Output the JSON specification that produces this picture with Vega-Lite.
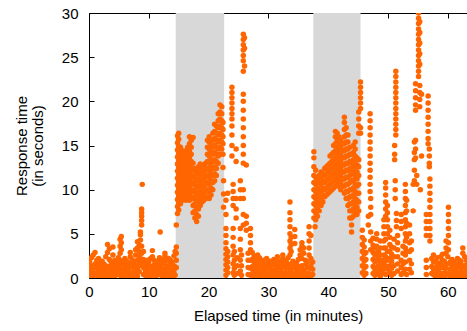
{
"$schema": "https://vega.github.io/schema/vega-lite/v6.json",
"width": 378, "height": 265,
"autosize": {"type": "none"},
"padding": {"left": 89, "top": 13, "right": 0, "bottom": 53},
"config": {"view": {"stroke": null}, "font": "Liberation Sans",
 "axis": {"grid": false, "domainColor": "black", "tickColor": "black", "labelColor": "black", "titleColor": "black", "labelFontSize": 15, "titleFontSize": 15, "titleFontWeight": "normal", "tickSize": -5, "domainWidth": 1, "tickWidth": 1, "zindex": 1, "labelFlush": false, "labelOverlap": false}},
"resolve": {"axis": {"x": "independent"}},
"layer": [
{"data": {"values": [{"s": 14.5, "e": 22.6}, {"s": 37.5, "e": 45.4}]},
 "mark": {"type": "rect", "color": "#d8d8d8"},
 "encoding": {
  "x": {"field": "s", "type": "quantitative", "scale": {"domain": [0, 63.2], "nice": false, "zero": false}, "axis": {"orient": "bottom", "values": [0,10,20,30,40,50,60], "labelPadding": 11, "title": "Elapsed time (in minutes)", "titlePadding": 9}},
  "x2": {"field": "e"},
  "y": {"datum": 0, "type": "quantitative", "scale": {"domain": [0, 30], "nice": false}, "axis": {"values": [0,5,10,15,20,25,30], "labelPadding": 16, "title": ["Response time", "(in seconds)"], "titlePadding": 16, "titleLineHeight": 16}},
  "y2": {"datum": 30}
 }},
{"data": {"values": [
{"t":0.1,"r":0.3},{"t":0.1,"r":1.1},{"t":0.1,"r":1.9},
{"t":0.4,"r":0.6},{"t":0.4,"r":1.4},{"t":0.4,"r":2.3},
{"t":0.7,"r":0.2},{"t":0.7,"r":1.0},{"t":0.7,"r":2.6},
{"t":1.0,"r":0.5},{"t":1.0,"r":1.6},{"t":1.0,"r":2.9},
{"t":1.3,"r":0.3},{"t":1.3,"r":1.2},{"t":1.3,"r":2.0},
{"t":1.6,"r":0.7},{"t":1.6,"r":1.5},{"t":1.6,"r":2.2},
{"t":1.9,"r":0.2},{"t":1.9,"r":0.9},{"t":1.9,"r":1.7},
{"t":2.2,"r":0.5},{"t":2.2,"r":1.3},{"t":2.2,"r":1.9},
{"t":2.5,"r":0.3},{"t":2.5,"r":1.0},{"t":2.5,"r":1.6},
{"t":2.8,"r":0.6},{"t":2.8,"r":1.4},{"t":2.8,"r":2.4},
{"t":3.1,"r":0.2},{"t":3.1,"r":1.1},{"t":3.1,"r":2.9},{"t":3.1,"r":3.8},
{"t":3.4,"r":0.5},{"t":3.4,"r":1.3},{"t":3.4,"r":2.1},{"t":3.4,"r":3.3},
{"t":3.7,"r":0.3},{"t":3.7,"r":0.9},{"t":3.7,"r":1.8},
{"t":4.0,"r":0.6},{"t":4.0,"r":1.5},{"t":4.0,"r":2.6},{"t":4.0,"r":3.5},
{"t":4.3,"r":0.2},{"t":4.3,"r":1.2},{"t":4.3,"r":2.0},
{"t":4.6,"r":0.4},{"t":4.6,"r":1.0},{"t":4.6,"r":1.7},
{"t":4.9,"r":0.7},{"t":4.9,"r":1.5},{"t":4.9,"r":2.3},
{"t":5.2,"r":0.3},{"t":5.2,"r":1.1},{"t":5.2,"r":2.0},{"t":5.2,"r":2.8},{"t":5.2,"r":3.6},{"t":5.2,"r":4.4},
{"t":5.4,"r":0.5},{"t":5.4,"r":1.6},{"t":5.4,"r":3.2},{"t":5.4,"r":4.0},{"t":5.4,"r":4.7},
{"t":5.7,"r":0.2},{"t":5.7,"r":0.9},{"t":5.7,"r":1.8},
{"t":6.0,"r":0.6},{"t":6.0,"r":1.4},{"t":6.0,"r":2.2},
{"t":6.3,"r":0.3},{"t":6.3,"r":1.2},{"t":6.3,"r":1.9},
{"t":6.6,"r":0.5},{"t":6.6,"r":1.0},{"t":6.6,"r":1.7},
{"t":6.9,"r":0.2},{"t":6.9,"r":1.3},{"t":6.9,"r":2.4},{"t":6.9,"r":2.9},
{"t":7.2,"r":0.6},{"t":7.2,"r":1.5},{"t":7.2,"r":2.1},
{"t":7.5,"r":0.3},{"t":7.5,"r":1.1},{"t":7.5,"r":1.8},
{"t":7.8,"r":0.5},{"t":7.8,"r":1.4},{"t":7.8,"r":2.6},{"t":7.8,"r":3.2},
{"t":8.1,"r":0.2},{"t":8.1,"r":1.0},{"t":8.1,"r":2.0},{"t":8.1,"r":3.4},{"t":8.1,"r":4.1},
{"t":8.4,"r":0.7},{"t":8.4,"r":1.6},{"t":8.4,"r":2.4},{"t":8.4,"r":3.0},{"t":8.4,"r":3.7},
{"t":8.6,"r":1.4},{"t":8.6,"r":2.2},{"t":8.6,"r":4.3},{"t":8.6,"r":4.9},{"t":8.6,"r":5.2},
{"t":8.8,"r":1.8},{"t":8.8,"r":2.8},{"t":8.8,"r":3.6},{"t":8.8,"r":6.0},{"t":8.8,"r":6.5},{"t":8.8,"r":7.0},{"t":8.8,"r":7.4},{"t":8.8,"r":7.8},
{"t":8.9,"r":10.6},
{"t":9.1,"r":0.4},{"t":9.1,"r":1.2},{"t":9.1,"r":2.1},{"t":9.1,"r":3.0},
{"t":9.4,"r":0.3},{"t":9.4,"r":0.9},{"t":9.4,"r":1.7},
{"t":9.7,"r":0.6},{"t":9.7,"r":1.4},{"t":9.7,"r":2.0},
{"t":10.0,"r":0.2},{"t":10.0,"r":1.1},{"t":10.0,"r":1.8},
{"t":10.3,"r":0.5},{"t":10.3,"r":1.3},{"t":10.3,"r":2.2},
{"t":10.6,"r":0.3},{"t":10.6,"r":1.0},{"t":10.6,"r":2.4},{"t":10.6,"r":3.1},
{"t":10.9,"r":0.6},{"t":10.9,"r":1.5},{"t":10.9,"r":2.0},
{"t":11.2,"r":0.2},{"t":11.2,"r":1.2},{"t":11.2,"r":1.7},
{"t":11.5,"r":0.4},{"t":11.5,"r":0.9},{"t":11.5,"r":1.9},
{"t":11.8,"r":0.7},{"t":11.8,"r":1.4},{"t":11.8,"r":2.3},
{"t":11.9,"r":5.2},
{"t":12.1,"r":0.3},{"t":12.1,"r":1.1},{"t":12.1,"r":1.8},
{"t":12.4,"r":0.5},{"t":12.4,"r":1.6},{"t":12.4,"r":2.1},
{"t":12.7,"r":0.2},{"t":12.7,"r":1.0},{"t":12.7,"r":2.5},{"t":12.7,"r":2.8},
{"t":13.0,"r":0.6},{"t":13.0,"r":1.3},{"t":13.0,"r":1.9},
{"t":13.3,"r":0.3},{"t":13.3,"r":1.1},{"t":13.3,"r":2.2},
{"t":13.6,"r":0.5},{"t":13.6,"r":1.5},{"t":13.6,"r":2.0},
{"t":13.9,"r":0.2},{"t":13.9,"r":0.9},{"t":13.9,"r":1.8},
{"t":14.2,"r":0.6},{"t":14.2,"r":1.4},{"t":14.2,"r":2.5},
{"t":14.4,"r":0.3},{"t":14.4,"r":1.1},{"t":14.4,"r":3.0},
{"t":14.6,"r":1.2},{"t":14.6,"r":2.0},{"t":14.6,"r":2.8},{"t":14.6,"r":3.5},{"t":14.6,"r":6.0},
{"t":14.8,"r":7.3},{"t":14.8,"r":8.1},{"t":14.8,"r":8.9},{"t":14.8,"r":9.7},{"t":14.8,"r":10.5},{"t":14.8,"r":11.3},{"t":14.8,"r":12.1},{"t":14.8,"r":12.9},{"t":14.8,"r":13.7},{"t":14.8,"r":14.5},{"t":14.8,"r":15.3},{"t":14.8,"r":16.1},
{"t":15.0,"r":7.7},{"t":15.0,"r":8.5},{"t":15.0,"r":9.3},{"t":15.0,"r":10.1},{"t":15.0,"r":10.9},{"t":15.0,"r":11.7},{"t":15.0,"r":12.5},{"t":15.0,"r":13.3},{"t":15.0,"r":14.1},{"t":15.0,"r":14.9},{"t":15.0,"r":15.7},{"t":15.0,"r":16.4},
{"t":15.3,"r":8.4},{"t":15.3,"r":9.2},{"t":15.3,"r":10.0},{"t":15.3,"r":10.8},{"t":15.3,"r":11.6},{"t":15.3,"r":12.4},{"t":15.3,"r":13.2},{"t":15.3,"r":14.0},{"t":15.3,"r":14.8},
{"t":15.6,"r":8.8},{"t":15.6,"r":9.6},{"t":15.6,"r":10.4},{"t":15.6,"r":11.2},{"t":15.6,"r":12.0},{"t":15.6,"r":12.8},{"t":15.6,"r":13.6},{"t":15.6,"r":14.4},
{"t":15.9,"r":9.2},{"t":15.9,"r":10.0},{"t":15.9,"r":10.8},{"t":15.9,"r":11.6},{"t":15.9,"r":12.4},{"t":15.9,"r":13.2},{"t":15.9,"r":14.0},
{"t":16.2,"r":8.8},{"t":16.2,"r":9.6},{"t":16.2,"r":10.4},{"t":16.2,"r":11.2},{"t":16.2,"r":12.0},{"t":16.2,"r":12.8},{"t":16.2,"r":13.6},{"t":16.2,"r":14.4},
{"t":16.5,"r":9.2},{"t":16.5,"r":10.0},{"t":16.5,"r":10.8},{"t":16.5,"r":11.6},{"t":16.5,"r":12.4},{"t":16.5,"r":13.2},{"t":16.5,"r":14.0},{"t":16.5,"r":14.8},
{"t":16.8,"r":8.8},{"t":16.8,"r":9.6},{"t":16.8,"r":10.4},{"t":16.8,"r":11.2},{"t":16.8,"r":12.0},{"t":16.8,"r":12.8},{"t":16.8,"r":13.6},{"t":16.8,"r":14.4},{"t":16.8,"r":15.2},{"t":16.8,"r":16.0},
{"t":17.1,"r":9.2},{"t":17.1,"r":10.0},{"t":17.1,"r":10.8},{"t":17.1,"r":11.6},{"t":17.1,"r":12.4},{"t":17.1,"r":13.2},{"t":17.1,"r":14.0},{"t":17.1,"r":14.8},{"t":17.1,"r":15.6},
{"t":17.4,"r":7.4},{"t":17.4,"r":8.2},{"t":17.4,"r":9.0},{"t":17.4,"r":9.8},{"t":17.4,"r":10.6},{"t":17.4,"r":11.4},{"t":17.4,"r":12.2},{"t":17.4,"r":13.0},{"t":17.4,"r":15.9},
{"t":17.7,"r":6.8},{"t":17.7,"r":7.6},{"t":17.7,"r":8.4},{"t":17.7,"r":9.2},{"t":17.7,"r":10.0},{"t":17.7,"r":10.8},{"t":17.7,"r":11.6},{"t":17.7,"r":12.4},
{"t":18.0,"r":6.4},{"t":18.0,"r":7.2},{"t":18.0,"r":8.0},{"t":18.0,"r":8.8},{"t":18.0,"r":9.6},{"t":18.0,"r":10.4},{"t":18.0,"r":11.2},{"t":18.0,"r":12.0},
{"t":18.3,"r":7.0},{"t":18.3,"r":7.8},{"t":18.3,"r":8.6},{"t":18.3,"r":9.4},{"t":18.3,"r":10.2},{"t":18.3,"r":11.0},{"t":18.3,"r":11.8},{"t":18.3,"r":12.6},
{"t":18.6,"r":8.2},{"t":18.6,"r":9.0},{"t":18.6,"r":9.8},{"t":18.6,"r":10.6},{"t":18.6,"r":11.4},{"t":18.6,"r":12.2},{"t":18.6,"r":12.9},
{"t":18.9,"r":8.6},{"t":18.9,"r":9.4},{"t":18.9,"r":10.2},{"t":18.9,"r":11.0},{"t":18.9,"r":11.8},{"t":18.9,"r":12.6},
{"t":19.2,"r":8.8},{"t":19.2,"r":9.6},{"t":19.2,"r":10.4},{"t":19.2,"r":11.2},{"t":19.2,"r":12.0},{"t":19.2,"r":12.8},
{"t":19.5,"r":9.0},{"t":19.5,"r":9.8},{"t":19.5,"r":10.6},{"t":19.5,"r":11.4},{"t":19.5,"r":12.2},{"t":19.5,"r":13.0},
{"t":19.8,"r":9.2},{"t":19.8,"r":10.0},{"t":19.8,"r":10.8},{"t":19.8,"r":11.6},{"t":19.8,"r":12.4},{"t":19.8,"r":13.2},{"t":19.8,"r":14.0},{"t":19.8,"r":14.8},{"t":19.8,"r":15.6},
{"t":20.1,"r":9.0},{"t":20.1,"r":9.8},{"t":20.1,"r":10.6},{"t":20.1,"r":11.4},{"t":20.1,"r":12.2},{"t":20.1,"r":13.0},{"t":20.1,"r":13.8},{"t":20.1,"r":14.6},{"t":20.1,"r":15.4},{"t":20.1,"r":16.0},
{"t":20.4,"r":9.4},{"t":20.4,"r":10.2},{"t":20.4,"r":11.0},{"t":20.4,"r":11.8},{"t":20.4,"r":12.6},{"t":20.4,"r":13.4},{"t":20.4,"r":14.2},{"t":20.4,"r":15.0},
{"t":20.7,"r":10.0},{"t":20.7,"r":10.8},{"t":20.7,"r":11.6},{"t":20.7,"r":12.4},{"t":20.7,"r":13.2},{"t":20.7,"r":14.0},{"t":20.7,"r":14.8},{"t":20.7,"r":15.6},{"t":20.7,"r":16.4},
{"t":21.0,"r":11.0},{"t":21.0,"r":11.8},{"t":21.0,"r":12.6},{"t":21.0,"r":13.4},{"t":21.0,"r":14.2},{"t":21.0,"r":15.0},{"t":21.0,"r":15.8},{"t":21.0,"r":16.6},{"t":21.0,"r":17.4},
{"t":21.3,"r":11.6},{"t":21.3,"r":12.4},{"t":21.3,"r":13.2},{"t":21.3,"r":14.0},{"t":21.3,"r":14.8},{"t":21.3,"r":15.6},{"t":21.3,"r":16.4},{"t":21.3,"r":17.2},
{"t":21.6,"r":13.0},{"t":21.6,"r":13.8},{"t":21.6,"r":14.6},{"t":21.6,"r":15.4},{"t":21.6,"r":16.2},{"t":21.6,"r":17.0},{"t":21.6,"r":17.8},{"t":21.6,"r":18.6},
{"t":21.9,"r":14.0},{"t":21.9,"r":14.8},{"t":21.9,"r":15.6},{"t":21.9,"r":16.4},{"t":21.9,"r":17.2},{"t":21.9,"r":18.0},{"t":21.9,"r":18.8},{"t":21.9,"r":19.6},
{"t":22.2,"r":14.6},{"t":22.2,"r":15.4},{"t":22.2,"r":16.2},{"t":22.2,"r":17.0},{"t":22.2,"r":17.8},{"t":22.2,"r":18.6},{"t":22.2,"r":19.4},
{"t":22.4,"r":15.2},{"t":22.4,"r":16.0},{"t":22.4,"r":16.8},{"t":22.4,"r":17.6},{"t":22.4,"r":14.0},{"t":22.4,"r":12.5},
{"t":22.5,"r":11.0},{"t":22.5,"r":9.5},{"t":22.5,"r":8.0},
{"t":22.9,"r":0.3},{"t":22.9,"r":0.9},{"t":22.9,"r":1.5},{"t":22.9,"r":2.1},{"t":22.9,"r":2.7},{"t":22.9,"r":3.3},{"t":22.9,"r":4.0},{"t":22.9,"r":4.8},{"t":22.9,"r":5.6},{"t":22.9,"r":7.2},{"t":22.9,"r":8.8},
{"t":23.2,"r":0.6},{"t":23.2,"r":1.2},{"t":23.2,"r":1.8},{"t":23.2,"r":2.4},{"t":23.2,"r":3.0},{"t":23.2,"r":9.6},
{"t":23.9,"r":21.6},{"t":23.9,"r":21.0},{"t":23.9,"r":20.4},{"t":23.9,"r":19.8},{"t":23.9,"r":19.2},{"t":23.9,"r":18.6},{"t":23.9,"r":18.0},{"t":23.9,"r":17.2},{"t":23.9,"r":16.2},{"t":23.9,"r":15.0},{"t":23.9,"r":13.8},
{"t":24.1,"r":10.6},{"t":24.1,"r":9.8},{"t":24.1,"r":9.0},{"t":24.1,"r":8.2},{"t":24.1,"r":5.6},{"t":24.1,"r":4.6},{"t":24.1,"r":3.6},{"t":24.1,"r":2.6},{"t":24.1,"r":1.6},{"t":24.1,"r":0.6},
{"t":24.3,"r":0.3},{"t":24.3,"r":1.1},{"t":24.3,"r":2.0},{"t":24.3,"r":3.0},
{"t":24.6,"r":14.6},{"t":24.6,"r":13.2},{"t":24.6,"r":9.0},{"t":24.6,"r":7.8},{"t":24.6,"r":6.8},
{"t":24.8,"r":0.5},{"t":24.8,"r":1.4},{"t":24.8,"r":2.3},
{"t":25.3,"r":11.0},{"t":25.3,"r":10.0},{"t":25.3,"r":9.0},{"t":25.3,"r":5.6},{"t":25.3,"r":4.4},{"t":25.3,"r":3.2},{"t":25.3,"r":2.0},{"t":25.3,"r":0.8},
{"t":25.5,"r":0.3},{"t":25.5,"r":1.4},{"t":25.5,"r":2.6},
{"t":25.8,"r":27.6},{"t":25.8,"r":27.0},{"t":25.8,"r":26.4},{"t":25.8,"r":25.8},{"t":25.8,"r":25.2},{"t":25.8,"r":24.6},{"t":25.8,"r":23.4},{"t":25.8,"r":20.8},{"t":25.8,"r":20.0},{"t":25.8,"r":19.0},{"t":25.8,"r":18.0},{"t":25.8,"r":17.0},{"t":25.8,"r":16.0},{"t":25.8,"r":15.0},{"t":25.8,"r":14.0},{"t":25.8,"r":13.0},{"t":25.8,"r":10.0},{"t":25.8,"r":9.0},{"t":25.8,"r":7.2},{"t":25.8,"r":6.0},
{"t":26.0,"r":27.2},{"t":26.0,"r":26.0},{"t":26.0,"r":24.0},
{"t":26.3,"r":12.8},{"t":26.3,"r":7.0},{"t":26.3,"r":6.2},{"t":26.3,"r":5.4},
{"t":26.6,"r":0.4},{"t":26.6,"r":1.2},{"t":26.6,"r":2.0},{"t":26.6,"r":2.8},
{"t":27.0,"r":5.6},{"t":27.0,"r":4.8},{"t":27.0,"r":4.0},{"t":27.0,"r":3.2},{"t":27.0,"r":0.3},{"t":27.0,"r":1.1},{"t":27.0,"r":2.0},
{"t":27.3,"r":0.5},{"t":27.3,"r":1.3},{"t":27.3,"r":2.1},{"t":27.3,"r":2.9},
{"t":27.6,"r":0.2},{"t":27.6,"r":1.0},{"t":27.6,"r":1.8},{"t":27.6,"r":2.5},
{"t":27.9,"r":0.6},{"t":27.9,"r":1.4},{"t":27.9,"r":2.2},
{"t":28.2,"r":0.3},{"t":28.2,"r":1.1},{"t":28.2,"r":1.9},{"t":28.2,"r":2.6},
{"t":28.5,"r":0.5},{"t":28.5,"r":1.5},{"t":28.5,"r":2.3},
{"t":28.8,"r":0.2},{"t":28.8,"r":0.9},{"t":28.8,"r":1.7},
{"t":29.1,"r":0.6},{"t":29.1,"r":1.3},{"t":29.1,"r":2.0},
{"t":29.4,"r":0.3},{"t":29.4,"r":1.0},{"t":29.4,"r":1.6},
{"t":29.7,"r":0.5},{"t":29.7,"r":1.4},{"t":29.7,"r":2.2},
{"t":30.0,"r":0.2},{"t":30.0,"r":1.1},{"t":30.0,"r":1.8},
{"t":30.3,"r":0.6},{"t":30.3,"r":1.3},{"t":30.3,"r":1.9},
{"t":30.6,"r":0.3},{"t":30.6,"r":0.9},{"t":30.6,"r":1.6},
{"t":30.9,"r":0.5},{"t":30.9,"r":1.5},{"t":30.9,"r":2.1},
{"t":31.2,"r":0.2},{"t":31.2,"r":1.0},{"t":31.2,"r":1.8},
{"t":31.5,"r":0.6},{"t":31.5,"r":1.4},{"t":31.5,"r":2.4},
{"t":31.8,"r":0.3},{"t":31.8,"r":1.2},{"t":31.8,"r":1.9},
{"t":32.1,"r":0.5},{"t":32.1,"r":1.0},{"t":32.1,"r":1.7},
{"t":32.4,"r":0.2},{"t":32.4,"r":1.3},{"t":32.4,"r":2.2},{"t":32.4,"r":2.6},
{"t":32.7,"r":0.6},{"t":32.7,"r":1.5},{"t":32.7,"r":2.0},
{"t":33.0,"r":0.3},{"t":33.0,"r":1.1},{"t":33.0,"r":1.8},
{"t":33.3,"r":0.5},{"t":33.3,"r":1.4},{"t":33.3,"r":2.3},
{"t":33.6,"r":0.2},{"t":33.6,"r":1.0},{"t":33.6,"r":2.6},{"t":33.6,"r":3.4},{"t":33.6,"r":4.2},{"t":33.6,"r":5.0},{"t":33.6,"r":5.8},{"t":33.6,"r":6.6},{"t":33.6,"r":7.4},{"t":33.6,"r":8.6},
{"t":33.8,"r":0.7},{"t":33.8,"r":1.6},{"t":33.8,"r":3.0},{"t":33.8,"r":3.8},{"t":33.8,"r":4.6},
{"t":34.1,"r":0.3},{"t":34.1,"r":1.2},{"t":34.1,"r":1.9},
{"t":34.4,"r":0.5},{"t":34.4,"r":1.5},{"t":34.4,"r":3.9},{"t":34.4,"r":4.7},{"t":34.4,"r":5.5},
{"t":34.7,"r":0.2},{"t":34.7,"r":1.0},{"t":34.7,"r":1.7},
{"t":35.0,"r":0.6},{"t":35.0,"r":1.3},{"t":35.0,"r":2.1},
{"t":35.3,"r":0.3},{"t":35.3,"r":1.1},{"t":35.3,"r":2.6},{"t":35.3,"r":3.2},
{"t":35.6,"r":0.5},{"t":35.6,"r":1.4},{"t":35.6,"r":2.2},{"t":35.6,"r":3.6},{"t":35.6,"r":4.0},
{"t":35.9,"r":0.2},{"t":35.9,"r":0.9},{"t":35.9,"r":2.8},{"t":35.9,"r":3.4},
{"t":36.2,"r":0.6},{"t":36.2,"r":1.5},{"t":36.2,"r":2.0},
{"t":36.5,"r":0.3},{"t":36.5,"r":1.2},{"t":36.5,"r":1.8},
{"t":36.8,"r":0.5},{"t":36.8,"r":1.1},{"t":36.8,"r":2.6},{"t":36.8,"r":3.4},{"t":36.8,"r":4.2},{"t":36.8,"r":5.0},{"t":36.8,"r":5.8},
{"t":37.1,"r":0.2},{"t":37.1,"r":1.4},{"t":37.1,"r":2.2},{"t":37.1,"r":4.8},
{"t":37.4,"r":0.4},{"t":37.4,"r":1.0},{"t":37.4,"r":1.8},
{"t":37.6,"r":6.8},{"t":37.6,"r":7.6},{"t":37.6,"r":8.4},{"t":37.6,"r":9.2},{"t":37.6,"r":10.0},{"t":37.6,"r":10.8},{"t":37.6,"r":11.6},{"t":37.6,"r":12.6},{"t":37.6,"r":13.6},{"t":37.6,"r":14.3},
{"t":37.8,"r":5.8},
{"t":37.9,"r":6.6},{"t":37.9,"r":7.4},{"t":37.9,"r":8.2},{"t":37.9,"r":9.0},{"t":37.9,"r":9.8},{"t":37.9,"r":10.6},{"t":37.9,"r":11.4},{"t":37.9,"r":12.2},
{"t":38.2,"r":7.0},{"t":38.2,"r":7.8},{"t":38.2,"r":8.6},{"t":38.2,"r":9.4},{"t":38.2,"r":10.2},{"t":38.2,"r":11.0},
{"t":38.5,"r":7.6},{"t":38.5,"r":8.4},{"t":38.5,"r":9.2},{"t":38.5,"r":10.0},{"t":38.5,"r":10.8},{"t":38.5,"r":11.6},
{"t":38.8,"r":8.2},{"t":38.8,"r":9.0},{"t":38.8,"r":9.8},{"t":38.8,"r":10.6},{"t":38.8,"r":11.4},{"t":38.8,"r":12.0},
{"t":39.1,"r":8.6},{"t":39.1,"r":9.4},{"t":39.1,"r":10.2},{"t":39.1,"r":11.0},{"t":39.1,"r":11.8},
{"t":39.4,"r":9.2},{"t":39.4,"r":10.0},{"t":39.4,"r":10.8},{"t":39.4,"r":11.6},{"t":39.4,"r":12.4},
{"t":39.7,"r":9.4},{"t":39.7,"r":10.2},{"t":39.7,"r":11.0},{"t":39.7,"r":11.8},{"t":39.7,"r":12.6},
{"t":40.0,"r":9.6},{"t":40.0,"r":10.4},{"t":40.0,"r":11.2},{"t":40.0,"r":12.0},{"t":40.0,"r":12.8},
{"t":40.3,"r":9.8},{"t":40.3,"r":10.6},{"t":40.3,"r":11.4},{"t":40.3,"r":12.2},{"t":40.3,"r":13.0},{"t":40.3,"r":13.8},
{"t":40.6,"r":10.0},{"t":40.6,"r":10.8},{"t":40.6,"r":11.6},{"t":40.6,"r":12.4},{"t":40.6,"r":13.2},{"t":40.6,"r":14.0},
{"t":40.9,"r":10.2},{"t":40.9,"r":11.0},{"t":40.9,"r":11.8},{"t":40.9,"r":12.6},{"t":40.9,"r":13.4},{"t":40.9,"r":14.2},{"t":40.9,"r":15.0},
{"t":41.2,"r":10.4},{"t":41.2,"r":11.2},{"t":41.2,"r":12.0},{"t":41.2,"r":12.8},{"t":41.2,"r":13.6},{"t":41.2,"r":14.4},{"t":41.2,"r":15.2},{"t":41.2,"r":16.0},{"t":41.2,"r":16.6},
{"t":41.5,"r":10.8},{"t":41.5,"r":11.6},{"t":41.5,"r":12.4},{"t":41.5,"r":13.2},{"t":41.5,"r":14.0},{"t":41.5,"r":14.8},{"t":41.5,"r":15.6},{"t":41.5,"r":16.4},
{"t":41.8,"r":10.4},{"t":41.8,"r":11.2},{"t":41.8,"r":12.0},{"t":41.8,"r":12.8},{"t":41.8,"r":13.6},{"t":41.8,"r":14.4},{"t":41.8,"r":15.2},{"t":41.8,"r":16.0},
{"t":42.1,"r":10.0},{"t":42.1,"r":10.8},{"t":42.1,"r":11.6},{"t":42.1,"r":12.4},{"t":42.1,"r":13.2},{"t":42.1,"r":14.0},{"t":42.1,"r":14.8},{"t":42.1,"r":15.6},
{"t":42.4,"r":10.4},{"t":42.4,"r":11.2},{"t":42.4,"r":12.0},{"t":42.4,"r":12.8},{"t":42.4,"r":13.6},{"t":42.4,"r":14.4},{"t":42.4,"r":15.2},
{"t":42.7,"r":9.6},{"t":42.7,"r":10.4},{"t":42.7,"r":11.2},{"t":42.7,"r":12.0},{"t":42.7,"r":12.8},{"t":42.7,"r":13.6},{"t":42.7,"r":14.4},{"t":42.7,"r":15.2},{"t":42.7,"r":16.0},{"t":42.7,"r":16.8},{"t":42.7,"r":17.6},{"t":42.7,"r":18.2},
{"t":43.0,"r":9.0},{"t":43.0,"r":9.8},{"t":43.0,"r":10.6},{"t":43.0,"r":11.4},{"t":43.0,"r":12.2},{"t":43.0,"r":13.0},{"t":43.0,"r":13.8},{"t":43.0,"r":14.6},{"t":43.0,"r":15.4},{"t":43.0,"r":16.2},{"t":43.0,"r":17.0},
{"t":43.3,"r":8.2},{"t":43.3,"r":9.0},{"t":43.3,"r":9.8},{"t":43.3,"r":10.6},{"t":43.3,"r":11.4},{"t":43.3,"r":12.2},{"t":43.3,"r":13.0},{"t":43.3,"r":13.8},{"t":43.3,"r":14.6},{"t":43.3,"r":15.4},{"t":43.3,"r":16.2},
{"t":43.6,"r":6.8},{"t":43.6,"r":7.6},{"t":43.6,"r":8.4},{"t":43.6,"r":9.2},{"t":43.6,"r":10.0},{"t":43.6,"r":10.8},{"t":43.6,"r":11.6},{"t":43.6,"r":12.4},{"t":43.6,"r":13.2},{"t":43.6,"r":14.0},{"t":43.6,"r":14.8},
{"t":43.9,"r":5.2},{"t":43.9,"r":6.0},{"t":43.9,"r":6.8},{"t":43.9,"r":7.6},{"t":43.9,"r":8.4},{"t":43.9,"r":9.2},{"t":43.9,"r":10.0},{"t":43.9,"r":11.0},{"t":43.9,"r":12.0},{"t":43.9,"r":13.0},{"t":43.9,"r":14.0},
{"t":44.2,"r":7.0},{"t":44.2,"r":7.8},{"t":44.2,"r":8.6},{"t":44.2,"r":9.4},{"t":44.2,"r":10.2},{"t":44.2,"r":11.0},{"t":44.2,"r":11.8},{"t":44.2,"r":12.6},{"t":44.2,"r":13.4},{"t":44.2,"r":14.2},{"t":44.2,"r":15.0},
{"t":44.5,"r":7.4},{"t":44.5,"r":8.2},{"t":44.5,"r":9.0},{"t":44.5,"r":9.8},{"t":44.5,"r":10.6},{"t":44.5,"r":11.4},{"t":44.5,"r":12.2},{"t":44.5,"r":13.0},{"t":44.5,"r":13.8},{"t":44.5,"r":14.6},{"t":44.5,"r":15.4},
{"t":44.8,"r":7.2},{"t":44.8,"r":8.0},{"t":44.8,"r":8.8},{"t":44.8,"r":9.6},{"t":44.8,"r":10.4},{"t":44.8,"r":11.2},{"t":44.8,"r":12.0},{"t":44.8,"r":12.8},{"t":44.8,"r":13.6},
{"t":45.1,"r":7.6},{"t":45.1,"r":8.6},{"t":45.1,"r":9.6},{"t":45.1,"r":10.6},{"t":45.1,"r":11.6},{"t":45.1,"r":12.6},{"t":45.1,"r":13.4},{"t":45.1,"r":16.4},{"t":45.1,"r":17.2},{"t":45.1,"r":18.0},{"t":45.1,"r":18.8},
{"t":45.4,"r":19.2},{"t":45.4,"r":19.8},{"t":45.4,"r":20.4},{"t":45.4,"r":21.0},{"t":45.4,"r":21.6},{"t":45.4,"r":22.2},{"t":45.4,"r":17.0},{"t":45.4,"r":16.4},
{"t":45.7,"r":0.6},{"t":45.7,"r":1.4},{"t":45.7,"r":2.2},{"t":45.7,"r":3.0},{"t":45.7,"r":3.8},{"t":45.7,"r":4.6},{"t":45.7,"r":5.4},
{"t":46.0,"r":0.3},{"t":46.0,"r":1.1},{"t":46.0,"r":1.9},{"t":46.0,"r":2.7},{"t":46.0,"r":3.5},{"t":46.0,"r":4.3},
{"t":46.3,"r":0.5},{"t":46.3,"r":1.3},{"t":46.3,"r":2.1},{"t":46.3,"r":2.9},
{"t":46.7,"r":7.0},{"t":46.7,"r":6.0},
{"t":47.0,"r":18.6},{"t":47.0,"r":17.8},{"t":47.0,"r":17.0},{"t":47.0,"r":16.2},{"t":47.0,"r":15.4},{"t":47.0,"r":14.6},{"t":47.0,"r":13.8},{"t":47.0,"r":13.0},{"t":47.0,"r":12.2},{"t":47.0,"r":11.4},{"t":47.0,"r":10.6},{"t":47.0,"r":9.8},
{"t":47.1,"r":9.0},{"t":47.1,"r":8.0},{"t":47.1,"r":7.2},{"t":47.1,"r":5.2},{"t":47.1,"r":4.2},{"t":47.1,"r":3.2},
{"t":47.5,"r":0.5},{"t":47.5,"r":1.3},{"t":47.5,"r":2.1},{"t":47.5,"r":2.9},{"t":47.5,"r":3.7},{"t":47.5,"r":4.5},
{"t":47.8,"r":0.3},{"t":47.8,"r":1.0},{"t":47.8,"r":1.8},{"t":47.8,"r":2.6},{"t":47.8,"r":3.4},
{"t":48.1,"r":0.4},{"t":48.1,"r":1.2},{"t":48.1,"r":2.0},{"t":48.1,"r":2.8},{"t":48.1,"r":3.6},{"t":48.1,"r":4.4},{"t":48.1,"r":5.0},
{"t":48.4,"r":0.6},{"t":48.4,"r":1.4},{"t":48.4,"r":2.2},{"t":48.4,"r":3.0},
{"t":48.7,"r":0.2},{"t":48.7,"r":1.0},{"t":48.7,"r":1.8},{"t":48.7,"r":2.6},{"t":48.7,"r":3.4},{"t":48.7,"r":4.2},
{"t":49.0,"r":0.5},{"t":49.0,"r":1.3},{"t":49.0,"r":2.0},
{"t":49.3,"r":1.0},{"t":49.3,"r":1.8},{"t":49.3,"r":2.6},{"t":49.3,"r":3.4},{"t":49.3,"r":4.2},{"t":49.3,"r":5.0},{"t":49.3,"r":5.8},{"t":49.3,"r":6.6},
{"t":49.6,"r":7.0},{"t":49.6,"r":7.8},{"t":49.6,"r":8.6},{"t":49.6,"r":9.4},{"t":49.6,"r":10.2},{"t":49.6,"r":10.8},{"t":49.6,"r":0.4},{"t":49.6,"r":1.4},{"t":49.6,"r":2.4},{"t":49.6,"r":3.4},{"t":49.6,"r":4.4},
{"t":49.9,"r":5.0},{"t":49.9,"r":5.8},{"t":49.9,"r":6.6},{"t":49.9,"r":7.4},{"t":49.9,"r":8.2},{"t":49.9,"r":1.0},{"t":49.9,"r":2.0},{"t":49.9,"r":3.0},
{"t":50.3,"r":0.6},{"t":50.3,"r":1.4},{"t":50.3,"r":2.2},{"t":50.3,"r":3.0},{"t":50.3,"r":3.8},{"t":50.3,"r":4.6},{"t":50.3,"r":5.4},
{"t":50.6,"r":0.3},{"t":50.6,"r":1.1},{"t":50.6,"r":1.9},{"t":50.6,"r":2.7},{"t":50.6,"r":3.5},
{"t":51.0,"r":4.4},{"t":51.0,"r":3.4},{"t":51.0,"r":2.4},{"t":51.0,"r":1.4},{"t":51.0,"r":0.5},
{"t":51.1,"r":15.0},{"t":51.1,"r":14.0},{"t":51.1,"r":13.4},
{"t":51.2,"r":11.0},{"t":51.2,"r":10.0},{"t":51.2,"r":9.0},
{"t":51.3,"r":23.4},{"t":51.3,"r":22.8},{"t":51.3,"r":22.2},{"t":51.3,"r":21.6},{"t":51.3,"r":21.0},{"t":51.3,"r":20.4},{"t":51.3,"r":19.8},{"t":51.3,"r":19.2},{"t":51.3,"r":18.6},{"t":51.3,"r":18.0},{"t":51.3,"r":17.4},{"t":51.3,"r":16.8},{"t":51.3,"r":16.2},
{"t":51.4,"r":7.3},{"t":51.4,"r":6.5},{"t":51.4,"r":5.8},
{"t":51.6,"r":4.8},{"t":51.6,"r":4.0},{"t":51.6,"r":3.2},{"t":51.6,"r":2.4},{"t":51.6,"r":1.6},{"t":51.6,"r":0.8},
{"t":52.2,"r":7.2},{"t":52.2,"r":6.4},{"t":52.2,"r":5.6},{"t":52.2,"r":2.0},{"t":52.2,"r":1.2},{"t":52.2,"r":0.4},
{"t":52.5,"r":0.6},{"t":52.5,"r":1.6},{"t":52.5,"r":2.8},{"t":52.5,"r":3.6},
{"t":52.9,"r":10.6},{"t":52.9,"r":9.8},{"t":52.9,"r":9.0},{"t":52.9,"r":8.2},{"t":52.9,"r":7.4},{"t":52.9,"r":6.6},{"t":52.9,"r":5.8},{"t":52.9,"r":5.0},{"t":52.9,"r":4.2},{"t":52.9,"r":3.4},{"t":52.9,"r":2.6},{"t":52.9,"r":1.8},{"t":52.9,"r":1.0},
{"t":53.1,"r":8.8},{"t":53.1,"r":7.6},{"t":53.1,"r":6.2},{"t":53.1,"r":4.6},{"t":53.1,"r":3.0},{"t":53.1,"r":0.4},
{"t":53.6,"r":6.0},{"t":53.6,"r":5.0},{"t":53.6,"r":4.0},{"t":53.6,"r":3.0},{"t":53.6,"r":2.0},{"t":53.6,"r":1.0},
{"t":53.9,"r":4.2},{"t":53.9,"r":3.2},{"t":53.9,"r":1.6},{"t":53.9,"r":0.6},
{"t":54.2,"r":7.6},{"t":54.2,"r":10.6},
{"t":54.4,"r":15.4},{"t":54.4,"r":14.2},{"t":54.4,"r":13.4},{"t":54.4,"r":12.2},{"t":54.4,"r":11.0},
{"t":54.6,"r":22.0},{"t":54.6,"r":21.2},{"t":54.6,"r":20.4},{"t":54.6,"r":19.6},{"t":54.6,"r":19.0},{"t":54.6,"r":15.6},{"t":54.6,"r":14.6},{"t":54.6,"r":13.6},
{"t":54.8,"r":11.6},{"t":54.8,"r":10.6},
{"t":55.1,"r":30.0},{"t":55.1,"r":29.4},{"t":55.1,"r":28.8},{"t":55.1,"r":28.2},{"t":55.1,"r":27.6},{"t":55.1,"r":27.0},{"t":55.1,"r":26.4},{"t":55.1,"r":25.8},{"t":55.1,"r":25.2},{"t":55.1,"r":24.6},{"t":55.1,"r":24.0},{"t":55.1,"r":23.4},{"t":55.1,"r":22.8},
{"t":55.3,"r":29.0},{"t":55.3,"r":27.8},{"t":55.3,"r":26.6},{"t":55.3,"r":25.4},{"t":55.3,"r":24.2},{"t":55.3,"r":21.8},{"t":55.3,"r":21.0},{"t":55.3,"r":20.2},{"t":55.3,"r":19.4},
{"t":55.4,"r":10.0},
{"t":55.6,"r":20.8},{"t":55.6,"r":13.8},
{"t":56.4,"r":7.2},{"t":56.4,"r":6.4},{"t":56.4,"r":5.6},{"t":56.4,"r":4.8},{"t":56.4,"r":2.0},{"t":56.4,"r":1.2},{"t":56.4,"r":0.4},
{"t":56.7,"r":20.6},{"t":56.7,"r":19.8},{"t":56.7,"r":19.0},{"t":56.7,"r":18.2},{"t":56.7,"r":17.4},{"t":56.7,"r":16.6},{"t":56.7,"r":15.8},{"t":56.7,"r":15.2},
{"t":56.9,"r":14.6},{"t":56.9,"r":13.8},{"t":56.9,"r":13.0},{"t":56.9,"r":12.6},
{"t":57.0,"r":11.2},{"t":57.0,"r":10.4},{"t":57.0,"r":9.6},{"t":57.0,"r":8.8},{"t":57.0,"r":8.0},{"t":57.0,"r":7.2},{"t":57.0,"r":6.4},{"t":57.0,"r":5.6},{"t":57.0,"r":4.8},{"t":57.0,"r":4.2},
{"t":57.3,"r":0.5},{"t":57.3,"r":1.3},{"t":57.3,"r":2.2},
{"t":57.6,"r":2.6},{"t":57.6,"r":1.8},{"t":57.6,"r":1.0},{"t":57.6,"r":0.4},
{"t":57.9,"r":0.2},{"t":57.9,"r":1.1},{"t":57.9,"r":1.9},
{"t":58.2,"r":0.6},{"t":58.2,"r":1.4},{"t":58.2,"r":2.3},
{"t":58.5,"r":0.3},{"t":58.5,"r":1.0},{"t":58.5,"r":1.7},
{"t":58.8,"r":0.5},{"t":58.8,"r":1.5},{"t":58.8,"r":2.4},
{"t":59.1,"r":0.2},{"t":59.1,"r":1.2},{"t":59.1,"r":2.0},{"t":59.1,"r":2.7},
{"t":59.4,"r":0.6},{"t":59.4,"r":1.3},{"t":59.4,"r":1.9},
{"t":59.7,"r":0.3},{"t":59.7,"r":1.1},{"t":59.7,"r":2.8},{"t":59.7,"r":3.4},{"t":59.7,"r":4.2},
{"t":60.0,"r":0.5},{"t":60.0,"r":1.6},{"t":60.0,"r":2.4},
{"t":60.1,"r":8.0},{"t":60.1,"r":7.2},{"t":60.1,"r":6.4},{"t":60.1,"r":5.6},{"t":60.1,"r":4.8},{"t":60.1,"r":4.0},{"t":60.1,"r":3.2},
{"t":60.4,"r":0.2},{"t":60.4,"r":1.0},{"t":60.4,"r":1.8},
{"t":60.7,"r":0.6},{"t":60.7,"r":1.4},{"t":60.7,"r":2.1},
{"t":61.0,"r":0.3},{"t":61.0,"r":1.2},{"t":61.0,"r":1.8},
{"t":61.3,"r":0.5},{"t":61.3,"r":0.9},{"t":61.3,"r":1.6},
{"t":61.6,"r":0.2},{"t":61.6,"r":1.3},{"t":61.6,"r":2.2},
{"t":61.9,"r":0.6},{"t":61.9,"r":1.5},{"t":61.9,"r":2.0},
{"t":62.2,"r":0.3},{"t":62.2,"r":1.0},{"t":62.2,"r":1.9},
{"t":62.5,"r":0.5},{"t":62.5,"r":1.4},{"t":62.5,"r":2.8},{"t":62.5,"r":3.4},
{"t":62.8,"r":0.2},{"t":62.8,"r":1.1},{"t":62.8,"r":2.4},
{"t":63.1,"r":0.6},{"t":63.1,"r":1.5},{"t":63.1,"r":2.0}
]},
 "mark": {"type": "circle", "size": 30, "color": "#ff6600", "opacity": 1, "clip": true},
 "encoding": {
  "x": {"field": "t", "type": "quantitative", "axis": {"orient": "top", "values": [0,10,20,30,40,50,60], "labels": false, "title": null}},
  "y": {"field": "r", "type": "quantitative", "axis": {"values": [0,5,10,15,20,25,30], "labelPadding": 16, "title": ["Response time", "(in seconds)"], "titlePadding": 16, "titleLineHeight": 16}}
 }}
]
}
